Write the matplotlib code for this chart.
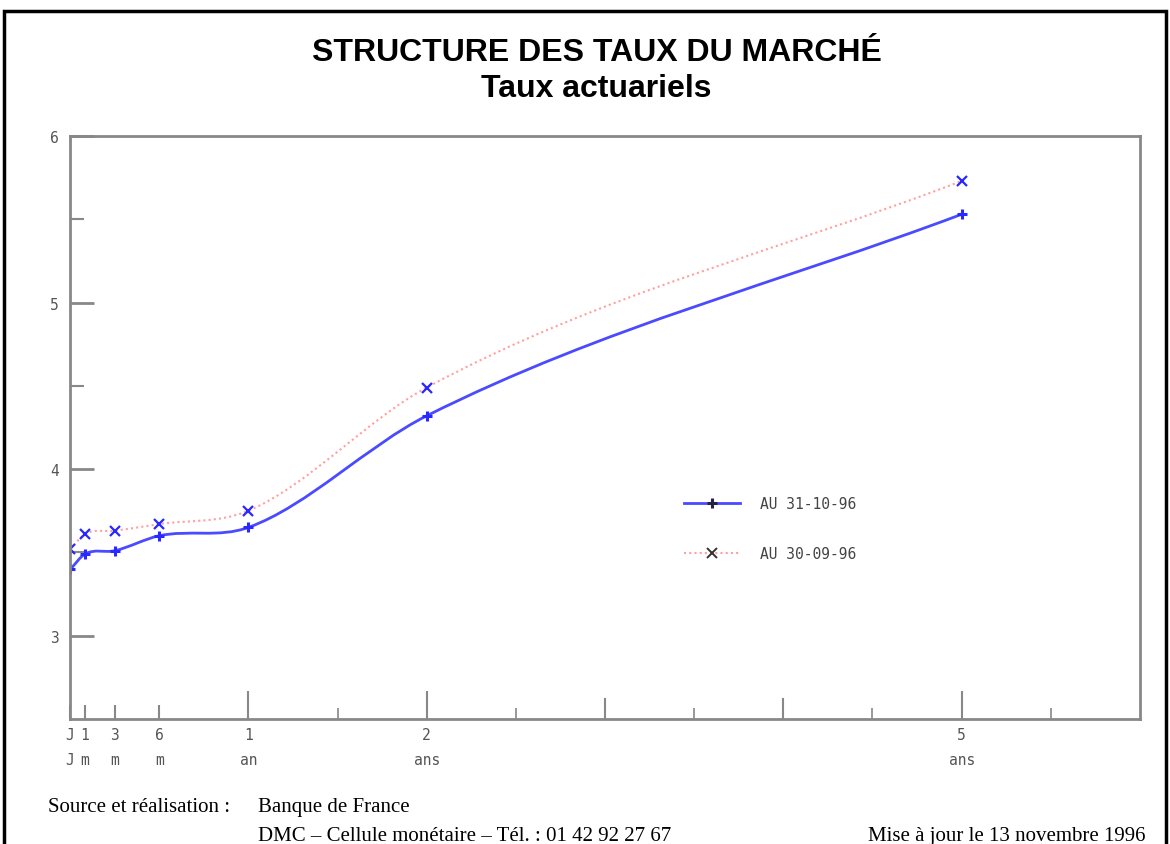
import matplotlib
matplotlib.use("Agg")
import matplotlib.pyplot as plt
from matplotlib.path import Path
from matplotlib.patches import PathPatch, Rectangle
from matplotlib.lines import Line2D
from matplotlib.ticker import FixedLocator

# maturities in years (JJ, 1 mois, 3 mois, 6 mois, 1 an, 2 ans, 5 ans)
maturites = [1 / 360, 1 / 12, 0.25, 0.5, 1, 2, 5]
taux_31_10 = [3.40, 3.49, 3.51, 3.60, 3.65, 4.32, 5.53]
taux_30_09 = [3.52, 3.61, 3.63, 3.67, 3.75, 4.49, 5.73]

tick_pos = [0, 1 / 12, 0.25, 0.5, 1, 2, 5]
tick_labels = ["J\nJ", "1\nm", "3\nm", "6\nm", "1\nan", "2\nans", "5\nans"]


def smooth_path(xs, ys):
    # hermite curve through the points (tangent = mean of the two secants)
    n = len(xs)
    sec = [(ys[i + 1] - ys[i]) / (xs[i + 1] - xs[i]) for i in range(n - 1)]
    m = [sec[0]] + [(sec[i - 1] + sec[i]) / 2 for i in range(1, n - 1)] + [sec[-1]]
    verts = [(xs[0], ys[0])]
    codes = [Path.MOVETO]
    for i in range(n - 1):
        h = xs[i + 1] - xs[i]
        verts += [(xs[i] + h / 3, ys[i] + m[i] * h / 3),
                  (xs[i + 1] - h / 3, ys[i + 1] - m[i + 1] * h / 3),
                  (xs[i + 1], ys[i + 1])]
        codes += [Path.CURVE4] * 3
    return Path(verts, codes)


fig = plt.figure(figsize=(11.7, 8.45), dpi=100)
ax = fig.add_axes([70 / 1170, 1 - 720 / 845, 1070 / 1170, 583 / 845])

ax.add_patch(PathPatch(smooth_path(maturites, taux_30_09), fill=False,
                       edgecolor="#ffa0a0", lw=1.5, ls=(0, (1, 1.5))))
ax.add_patch(PathPatch(smooth_path(maturites, taux_31_10), fill=False,
                       edgecolor="#4a4aff", lw=2))
ax.plot(maturites, taux_30_09, ls="none", marker="x", ms=7, mew=1.6, color="#2828ff")
ax.plot(maturites, taux_31_10, ls="none", marker="+", ms=7, mew=2.2, color="#2828ff")

ax.set_xlim(0, 6)
ax.set_ylim(2.5, 6)

ax.xaxis.set_major_locator(FixedLocator(tick_pos))
ax.set_xticklabels(tick_labels, linespacing=1.8, family="DejaVu Sans Mono")
ax.xaxis.set_minor_locator(FixedLocator([1.5, 2.5, 3, 3.5, 4, 4.5, 5.5]))
ax.set_yticks([3, 4, 5, 6])
ax.set_yticklabels(["3", "4", "5", "6"], family="DejaVu Sans Mono")
ax.yaxis.set_minor_locator(FixedLocator([3.5, 4.5, 5.5]))

ax.tick_params(axis="both", which="both", direction="in", color="#888888",
               labelcolor="#555555", labelsize=10.5)
ax.tick_params(axis="x", which="major", length=10, width=1.5, pad=6)
ax.tick_params(axis="x", which="minor", length=8, width=1.2)
ax.tick_params(axis="y", which="major", length=17, width=2, pad=8)
ax.tick_params(axis="y", which="minor", length=10, width=1.5)
for t in ax.xaxis.get_major_ticks()[4:]:
    t.tick1line.set_markersize(20)
# integer years without labels get the tall tick too
for v in [3, 4]:
    ax.axvline(v, ymin=0, ymax=20 / 583, color="#888888", lw=1.5)

for s in ax.spines.values():
    s.set_color("#888888")
    s.set_linewidth(2)

handles = [
    Line2D([], [], color="#4a4aff", lw=2, marker="+", ms=7, mew=2.2, mec="#222244"),
    Line2D([], [], color="#ffa0a0", lw=1.5, ls=(0, (1, 1.5)), marker="x", ms=7,
           mew=1.4, mec="#333333"),
]
ax.legend(handles, ["AU 31-10-96", "AU 30-09-96"], loc="center left",
          bbox_to_anchor=(0.562, 0.326), frameon=False,
          prop={"family": "DejaVu Sans Mono", "size": 10.5},
          handlelength=3.8, handletextpad=1.4, labelspacing=2.4,
          labelcolor="#444444")

fig.text(0.51, 1 - 53 / 845, "STRUCTURE DES TAUX DU MARCHÉ", ha="center", va="center",
         family="Liberation Sans", weight="bold", fontsize=23)
fig.text(0.51, 1 - 89 / 845, "Taux actuariels", ha="center", va="center",
         family="Liberation Sans", weight="bold", fontsize=23)

fig.text(48 / 1170, 1 - 808 / 845, "Source et réalisation :", ha="left", va="center",
         family="Liberation Serif", fontsize=15)
fig.text(258 / 1170, 1 - 808 / 845, "Banque de France", ha="left", va="center",
         family="Liberation Serif", fontsize=15)
fig.text(258 / 1170, 1 - 837 / 845, "DMC – Cellule monétaire – Tél. : 01 42 92 27 67",
         ha="left", va="center", family="Liberation Serif", fontsize=15)
fig.text(1146 / 1170, 1 - 837 / 845, "Mise à jour le 13 novembre 1996", ha="right",
         va="center", family="Liberation Serif", fontsize=15)

# page frame
fig.patches.append(Rectangle((4 / 1170, -0.1), 1162 / 1170, 1.1 - 12 / 845,
                             transform=fig.transFigure, fill=False,
                             edgecolor="black", lw=2.5))

fig.savefig("out.png", dpi=100)
